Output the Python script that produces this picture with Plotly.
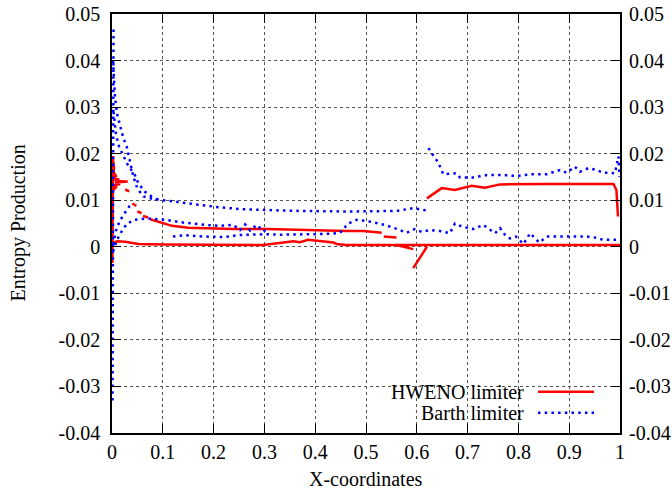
import plotly.graph_objects as go

# ---------------- data ----------------
x_ticks = [0, 0.1, 0.2, 0.3, 0.4, 0.5, 0.6, 0.7, 0.8, 0.9, 1]
x_tick_text = ["0", "0.1", "0.2", "0.3", "0.4", "0.5", "0.6", "0.7", "0.8", "0.9", "1"]
y_ticks = [-0.04, -0.03, -0.02, -0.01, 0, 0.01, 0.02, 0.03, 0.04, 0.05]
y_tick_text = ["-0.04", "-0.03", "-0.02", "-0.01", "0", "0.01", "0.02", "0.03", "0.04", "0.05"]

# HWENO limiter (red, solid) - branches
hw_wall_x = [0.0008, 0.0010, 0.0012, 0.0015, 0.0020]
hw_wall_y = [-0.0035, 0.0000, 0.0060, 0.0130, 0.0195]
hw_spike_x = [0.002, 0.004, 0.003, 0.008, 0.004, 0.014, 0.005, 0.022, 0.006, 0.031, 0.007, 0.016, 0.004, 0.008, 0.003]
hw_spike_y = [0.0185, 0.0170, 0.0160, 0.0152, 0.0148, 0.0145, 0.0143, 0.0141, 0.0140, 0.0140, 0.0138, 0.0135, 0.0132, 0.0128, 0.0122]
hw_d1_x = [0.026, 0.034]
hw_d1_y = [0.0123, 0.0119]
hw_d2_x = [0.040, 0.048]
hw_d2_y = [0.0093, 0.0088]
hw_d3_x = [0.050, 0.058]
hw_d3_y = [0.0076, 0.0072]
hw_d4_x = [0.061, 0.071]
hw_d4_y = [0.0066, 0.0063]
hw_upper_x = [0.075, 0.098, 0.118, 0.150, 0.183, 0.239, 0.305, 0.364, 0.400, 0.462, 0.495, 0.531]
hw_upper_y = [0.0059, 0.0052, 0.0045, 0.0041, 0.0040, 0.0038, 0.0038, 0.0036, 0.0035, 0.0034, 0.0034, 0.0030]
hw_step_x = [0.535, 0.560]
hw_step_y = [0.0022, 0.0020]
hw_base_x = [0.002, 0.010, 0.026, 0.052, 0.100, 0.242, 0.298, 0.357, 0.370, 0.386, 0.436, 0.442, 0.460, 0.700, 1.000]
hw_base_y = [0.0008, 0.0012, 0.0011, 0.0006, 0.0005, 0.0004, 0.0004, 0.0012, 0.0010, 0.0015, 0.0009, 0.0006, 0.0004, 0.0004, 0.0004]
hw_slope_x = [0.560, 0.593]
hw_slope_y = [0.0004, -0.0005]
hw_dip_x = [0.593, 0.620]
hw_dip_y = [-0.0046, 0.0000]
hw_right_x = [0.620, 0.649, 0.675, 0.708, 0.734, 0.764, 0.850, 0.950, 0.987, 0.993, 0.996]
hw_right_y = [0.0104, 0.0126, 0.0122, 0.0131, 0.0127, 0.0134, 0.0135, 0.0135, 0.0135, 0.0122, 0.0065]

# Barth limiter (blue, dotted) - branches
ba_wall_x = [0.0010, 0.0012, 0.0015, 0.0018, 0.0022, 0.0025, 0.0030]
ba_wall_y = [-0.0330, -0.0150, 0.0000, 0.0150, 0.0300, 0.0400, 0.0470]
ba_fan1_x = [0.002, 0.006, 0.010, 0.016, 0.022, 0.029, 0.036, 0.042, 0.050, 0.062, 0.080, 0.098, 0.130, 0.173, 0.210, 0.252, 0.290, 0.331, 0.370, 0.409, 0.450, 0.482, 0.520, 0.560, 0.593, 0.605, 0.619]
ba_fan1_y = [0.0400, 0.0320, 0.0285, 0.0258, 0.0235, 0.0215, 0.0180, 0.0151, 0.0125, 0.0108, 0.0103, 0.0100, 0.0096, 0.0090, 0.0085, 0.0081, 0.0079, 0.0078, 0.0077, 0.0076, 0.0076, 0.0076, 0.0076, 0.0077, 0.0083, 0.0081, 0.0078]
ba_fan2_x = [0.003, 0.008, 0.014, 0.022, 0.030, 0.045, 0.052, 0.065, 0.078, 0.091]
ba_fan2_y = [0.0290, 0.0240, 0.0215, 0.0195, 0.0178, 0.0154, 0.0136, 0.0118, 0.0108, 0.0100]
ba_rise_x = [0.002, 0.008, 0.015, 0.022, 0.029, 0.035]
ba_rise_y = [0.0005, 0.0035, 0.0055, 0.0068, 0.0079, 0.0088]
ba_mid_x = [0.002, 0.010, 0.020, 0.030, 0.045, 0.070, 0.104, 0.140, 0.183, 0.210, 0.239, 0.252, 0.262, 0.272, 0.285, 0.298, 0.308]
ba_mid_y = [-0.0010, 0.0015, 0.0035, 0.0050, 0.0058, 0.0061, 0.0058, 0.0052, 0.0047, 0.0045, 0.0047, 0.0036, 0.0048, 0.0035, 0.0047, 0.0033, 0.0040]
ba_low_x = [0.120, 0.144, 0.180, 0.222, 0.250, 0.280, 0.300, 0.330, 0.360, 0.400, 0.430, 0.449, 0.465, 0.482, 0.508, 0.537, 0.567, 0.580, 0.596, 0.610, 0.626, 0.645, 0.665, 0.675, 0.690, 0.711, 0.731, 0.754, 0.764, 0.774, 0.783, 0.795, 0.810, 0.823, 0.841, 0.856, 0.882, 0.934, 0.950, 0.967, 0.993]
ba_low_y = [0.0022, 0.0025, 0.0022, 0.0021, 0.0025, 0.0027, 0.0027, 0.0026, 0.0026, 0.0027, 0.0028, 0.0030, 0.0050, 0.0058, 0.0054, 0.0047, 0.0036, 0.0030, 0.0038, 0.0032, 0.0036, 0.0034, 0.0029, 0.0050, 0.0043, 0.0038, 0.0047, 0.0029, 0.0040, 0.0025, 0.0018, 0.0022, 0.0006, 0.0029, 0.0009, 0.0022, 0.0022, 0.0022, 0.0020, 0.0015, 0.0015]
ba_right_x = [0.623, 0.629, 0.639, 0.646, 0.652, 0.678, 0.685, 0.711, 0.738, 0.770, 0.797, 0.826, 0.856, 0.882, 0.895, 0.911, 0.921, 0.938, 0.954, 0.967, 0.980, 0.990, 0.997, 0.999]
ba_right_y = [0.0212, 0.0201, 0.0186, 0.0172, 0.0156, 0.0158, 0.0149, 0.0149, 0.0154, 0.0154, 0.0152, 0.0156, 0.0156, 0.0165, 0.0159, 0.0172, 0.0161, 0.0169, 0.0165, 0.0159, 0.0159, 0.0158, 0.0194, 0.0150]

legend_names = ["HWENO limiter", "Barth limiter"]


def join(*segs):
    xs, ys = [], []
    for sx, sy in segs:
        if xs:
            xs.append(None)
            ys.append(None)
        xs.extend(sx)
        ys.extend(sy)
    return xs, ys


hx, hy = join((hw_wall_x, hw_wall_y), (hw_spike_x, hw_spike_y), (hw_d1_x, hw_d1_y),
              (hw_d2_x, hw_d2_y), (hw_d3_x, hw_d3_y), (hw_d4_x, hw_d4_y),
              (hw_upper_x, hw_upper_y), (hw_step_x, hw_step_y), (hw_base_x, hw_base_y),
              (hw_slope_x, hw_slope_y), (hw_dip_x, hw_dip_y), (hw_right_x, hw_right_y))
bx, by = join((ba_wall_x, ba_wall_y), (ba_fan1_x, ba_fan1_y), (ba_fan2_x, ba_fan2_y),
              (ba_rise_x, ba_rise_y), (ba_mid_x, ba_mid_y), (ba_low_x, ba_low_y),
              (ba_right_x, ba_right_y))

RED = "#ff0000"
BLUE = "#0000ff"
DOT = "2.5px,4.2px"
FONT = "Liberation Serif, Times New Roman, DejaVu Serif, serif"
FSIZE = 20

fig = go.Figure()
fig.add_trace(go.Scatter(x=hx, y=hy, mode="lines", name=legend_names[0],
                         line=dict(color=RED, width=2.5), connectgaps=False))
fig.add_trace(go.Scatter(x=bx, y=by, mode="lines", name=legend_names[1],
                         line=dict(color=BLUE, width=2.5, dash=DOT), connectgaps=False))
# invisible copy bound to the right-hand (mirrored) y axis so it gets drawn
fig.add_trace(go.Scatter(x=hx, y=hy, mode="lines", yaxis="y2", opacity=0,
                         line=dict(color=RED, width=0), hoverinfo="skip",
                         showlegend=False))

axis_common = dict(
    showline=True, linecolor="black", linewidth=1.5,
    ticks="inside", ticklen=9, tickwidth=1.2, tickcolor="black",
    showgrid=True, gridcolor="#555555", gridwidth=1, griddash="dot",
    zeroline=False, automargin=False, ticklabeloverflow="allow",
    tickfont=dict(family=FONT, size=FSIZE, color="black"),
)

fig.update_layout(
    width=672, height=493,
    margin=dict(l=112, r=52, t=14, b=60),
    paper_bgcolor="white", plot_bgcolor="white",
    showlegend=False,
    font=dict(family=FONT, size=FSIZE, color="black"),
    xaxis=dict(range=[0, 1], tickvals=x_ticks, ticktext=x_tick_text,
               mirror="ticks", ticklabelstandoff=0, **axis_common),
    yaxis=dict(range=[-0.04, 0.05], tickvals=y_ticks, ticktext=y_tick_text,
               mirror="ticks", ticklabelstandoff=6, **axis_common),
    yaxis2=dict(range=[-0.04, 0.05], tickvals=y_ticks, ticktext=y_tick_text,
                overlaying="y", side="right", anchor="x", matches="y",
                showline=False, showgrid=False, zeroline=False, ticks="",
                ticklabelstandoff=8, automargin=False, ticklabeloverflow="allow",
                tickfont=dict(family=FONT, size=FSIZE, color="black")),
)

# axis titles
fig.add_annotation(text="Entropy Production", xref="paper", yref="paper",
                   x=-0.185, y=0.5, textangle=-90, showarrow=False,
                   xanchor="center", yanchor="middle",
                   font=dict(family=FONT, size=FSIZE, color="black"))
fig.add_annotation(text="X-coordinates", xref="paper", yref="paper",
                   x=0.5, y=-0.11, showarrow=False, xanchor="center", yanchor="middle",
                   font=dict(family=FONT, size=FSIZE, color="black"))

# gnuplot-style key (text left of sample)
key_y = [0.0986, 0.0484]
key_color = [RED, BLUE]
key_dash = ["solid", DOT]
for name, ky, kc, kd in zip(legend_names, key_y, key_color, key_dash):
    fig.add_annotation(text=name, xref="paper", yref="paper", x=0.815, y=ky,
                       showarrow=False, xanchor="right", yanchor="middle",
                       font=dict(family=FONT, size=FSIZE, color="black"))
    fig.add_shape(type="line", xref="paper", yref="paper", x0=0.8386, x1=0.9488,
                  y0=ky, y1=ky, line=dict(color=kc, width=2.5, dash=kd))

# remove the default page margin so the figure sits at the window's corner
fig.write_html("out.html", config={"displayModeBar": False},
               post_script="document.body.style.margin='0';")
